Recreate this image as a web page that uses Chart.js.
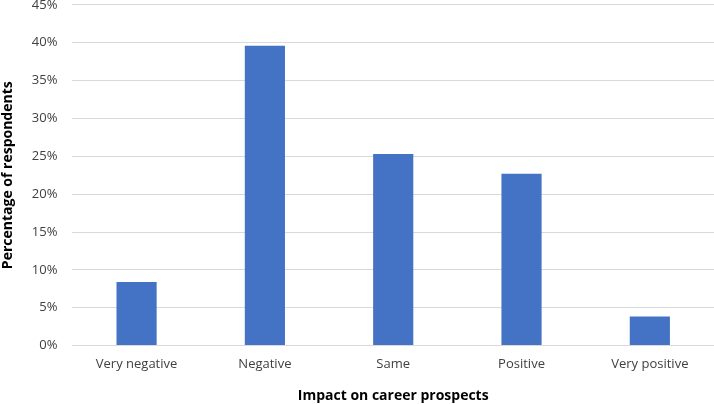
<!DOCTYPE html>
<html>
<head>
<meta charset="utf-8">
<script src="https://cdn.jsdelivr.net/npm/chart.js@4"></script>
<style>
  html, body { margin: 0; padding: 0; background: #fff; overflow: hidden; }
  #wrap { position: absolute; left: 0; top: -18px; width: 714px; height: 422px; }
</style>
</head>
<body>
<div id="wrap"><canvas id="canvas"></canvas></div>
<script>
var categories = ['Very negative', 'Negative', 'Same', 'Positive', 'Very positive'];
var percentages = [8.4, 39.6, 25.3, 22.7, 3.85];
var yTicks = [0, 5, 10, 15, 20, 25, 30, 35, 40, 45];

var fontFamily = "'Open Sans', 'Noto Sans', sans-serif";

var config = {
    type: 'bar',
    data: {
        labels: categories,
        datasets: [{
            label: 'Percentage of respondents',
            data: percentages,
            backgroundColor: '#4472C4',
            categoryPercentage: 1.0,
            barPercentage: 0.313
        }]
    },
    options: {
        responsive: true,
        maintainAspectRatio: false,
        animation: false,
        layout: {
            padding: { top: 0, right: 0, bottom: 0, left: 0 }
        },
        plugins: {
            legend: { display: false },
            tooltip: { enabled: false }
        },
        scales: {
            x: {
                grid: { display: false, drawTicks: false },
                border: { display: false },
                ticks: {
                    color: '#404040',
                    padding: 11,
                    font: { family: fontFamily, size: 13 },
                    maxRotation: 0
                },
                title: {
                    display: true,
                    text: 'Impact on career prospects',
                    color: '#000',
                    font: { family: fontFamily, size: 14, weight: 'bold' },
                    padding: { top: 4, bottom: 0 }
                }
            },
            y: {
                min: 0,
                max: 45,
                afterBuildTicks: function(axis) {
                    axis.ticks = yTicks.map(function(v) { return { value: v }; });
                },
                grid: { color: '#d9d9d9', lineWidth: 1, drawTicks: false },
                border: { display: false },
                ticks: {
                    color: '#404040',
                    padding: 15,
                    font: { family: fontFamily, size: 13 },
                    callback: function(v) { return v + '%'; }
                },
                title: {
                    display: true,
                    text: 'Percentage of respondents',
                    color: '#000',
                    font: { family: fontFamily, size: 14, weight: 'bold' },
                    padding: { top: 0, bottom: 0 }
                }
            }
        }
    }
};

window.onload = function() {
    var ctx = document.getElementById('canvas').getContext('2d');
    window.myBar = new Chart(ctx, config);
};
</script>
</body>
</html>
